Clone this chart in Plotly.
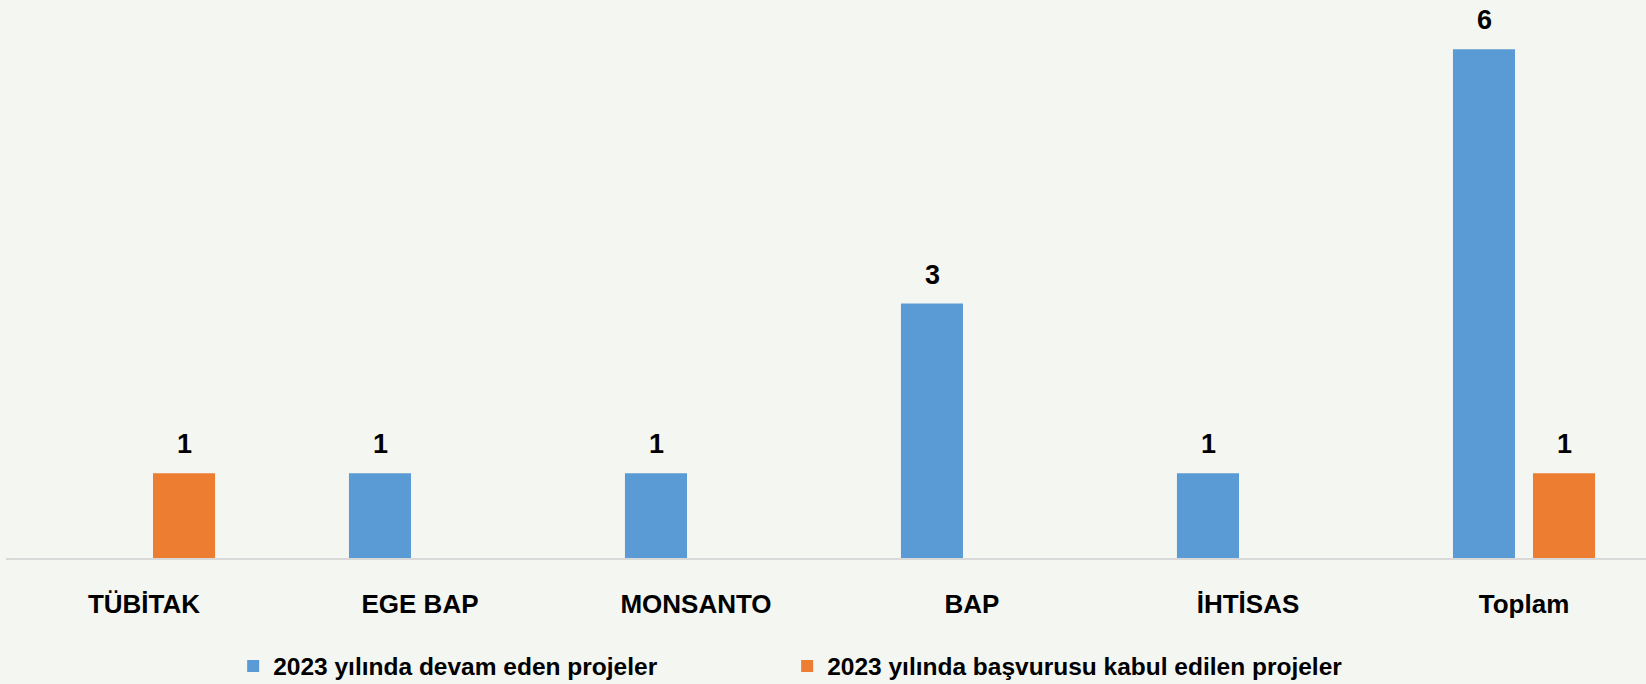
import plotly.graph_objects as go

categories = ["TÜBİTAK", "EGE BAP", "MONSANTO", "BAP", "İHTİSAS", "Toplam"]
series_names = ["2023 yılında devam eden projeler", "2023 yılında başvurusu kabul edilen projeler"]
devam_eden = [None, 1, 1, 3, 1, 6]
kabul_edilen = [1, None, None, None, None, 1]

BLUE = "#5B9BD5"
ORANGE = "#ED7D31"
BG = "#F4F6F2"
FONT = "Liberation Sans"

fig = go.Figure()
fig.add_trace(go.Bar(x=categories, y=devam_eden, name=series_names[0], legend="legend",
                     marker=dict(color=BLUE, line=dict(width=0))))
fig.add_trace(go.Bar(x=categories, y=kabul_edilen, name=series_names[1], legend="legend2",
                     marker=dict(color=ORANGE, line=dict(width=0))))

# data labels
for vals, shift in ((devam_eden, -40), (kabul_edilen, 40)):
    for c, v in zip(categories, vals):
        if v is None:
            continue
        fig.add_annotation(x=c, y=v, text=f"<b>{v}</b>", showarrow=False,
                           xshift=shift, yshift=29, yanchor="middle",
                           font=dict(family=FONT, size=27, color="#000000"))

legend_font = dict(family=FONT, size=24.5, color="#000000", weight="bold")
fig.update_layout(
    width=1646, height=684,
    paper_bgcolor=BG, plot_bgcolor=BG,
    margin=dict(l=6, r=0, t=0, b=126, autoexpand=False),
    barmode="group", bargap=0.42, bargroupgap=0.225,
    font=dict(family=FONT, size=25, color="#000000"),
    showlegend=True,
    legend=dict(orientation="h", x=228 / 1646, xanchor="left", yref="container",
                y=18 / 684, yanchor="middle",
                font=legend_font, bgcolor="rgba(0,0,0,0)"),
    legend2=dict(orientation="h", x=784 / 1646, xanchor="left", yref="container",
                 y=18 / 684, yanchor="middle",
                 font=legend_font, bgcolor="rgba(0,0,0,0)"),
    xaxis=dict(type="category", range=[-0.5, -0.5 + 1640 / 276],
               showline=True, linecolor="#D9D9D9", linewidth=2,
               showgrid=False, zeroline=False, ticks="",
               ticklabelstandoff=22, automargin=False,
               tickfont=dict(family=FONT, size=26, color="#000000", weight="bold")),
    yaxis=dict(range=[0, 558 / 84.8], visible=False, showgrid=False, zeroline=False),
)

fig.write_html("out.html", config={"displayModeBar": False},
               post_script="document.body.style.margin='0';document.body.style.background='%s';" % BG)
